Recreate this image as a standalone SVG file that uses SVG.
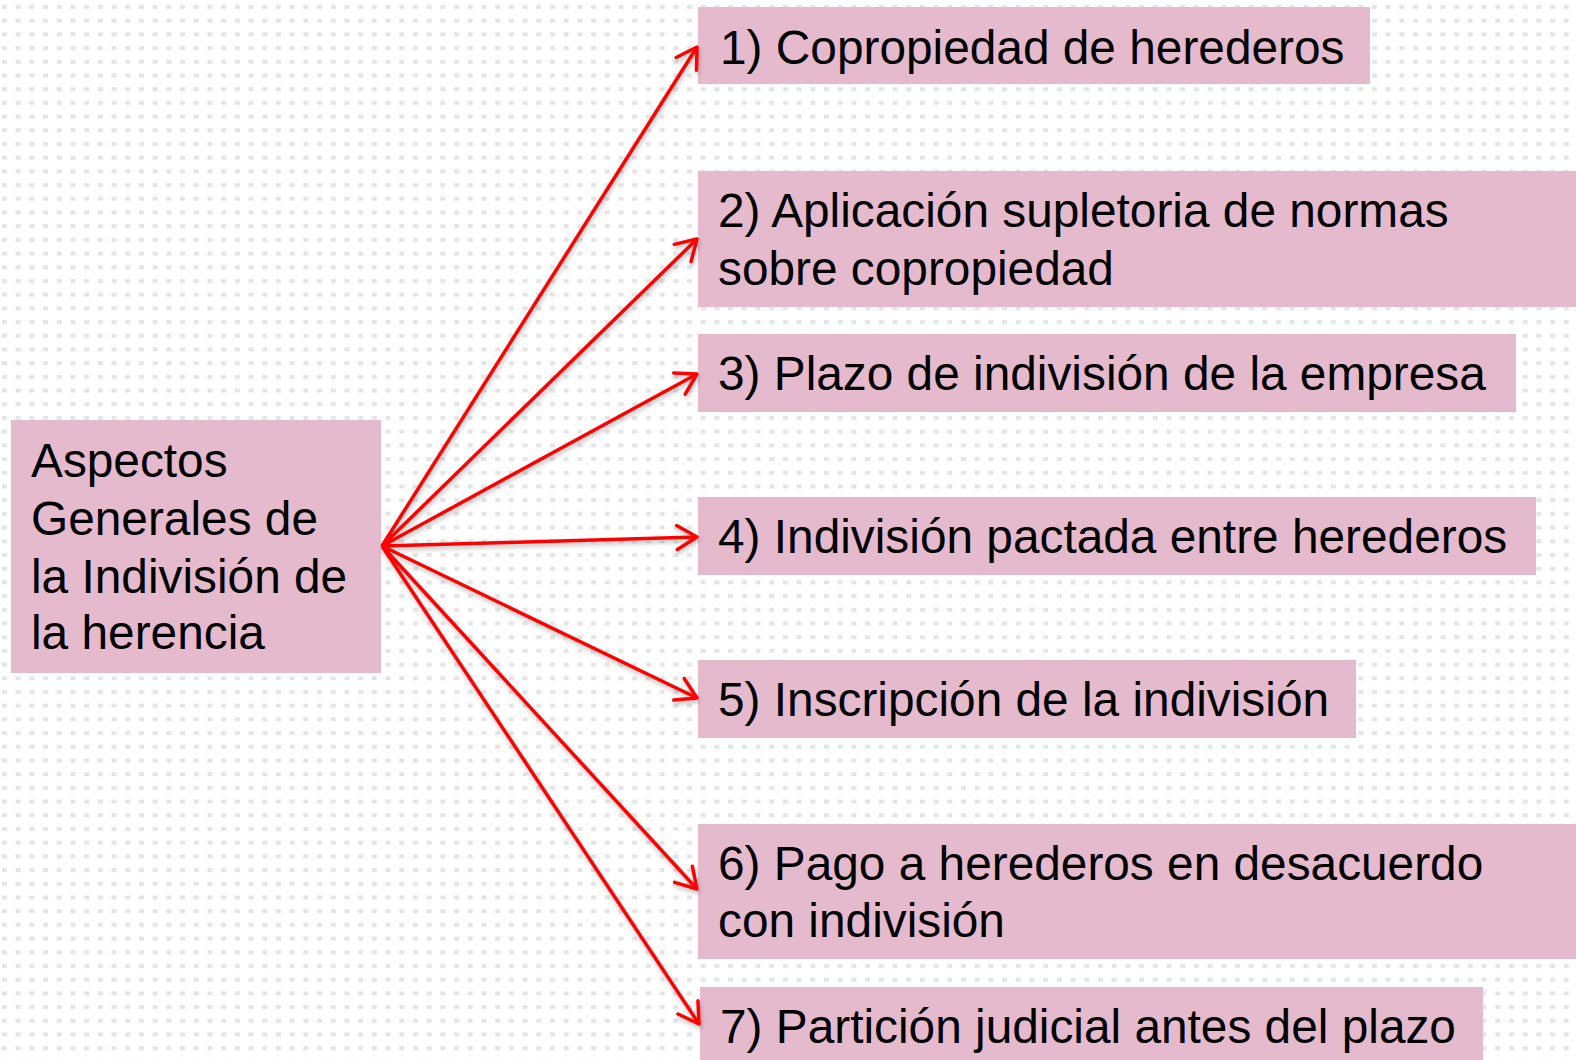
<svg xmlns="http://www.w3.org/2000/svg" width="1576" height="1060" viewBox="0 0 1576 1060">
<defs>
<pattern id="dots" x="0" y="0" width="13.7" height="13.7" patternUnits="userSpaceOnUse">
<rect x="2" y="5" width="5" height="4" fill="#e4e4e4"/>
</pattern>
<marker id="arr" viewBox="0 0 24 28" refX="22" refY="14" markerWidth="24" markerHeight="28" markerUnits="userSpaceOnUse" orient="auto">
<path d="M2,2 L22,14 L2,26" fill="none" stroke="#ff0000" stroke-width="3.5" stroke-linecap="round" stroke-linejoin="round"/>
</marker>
<filter id="sh" x="-10%" y="-10%" width="120%" height="120%">
<feDropShadow dx="1" dy="3" stdDeviation="2" flood-color="#000" flood-opacity="0.25"/>
</filter>
</defs>
<style>
.box{fill:#e5bacd}
.t{font-family:"Liberation Sans",Arial,sans-serif;font-size:47.8px;fill:#000}
.c{stroke:#ff0000;stroke-width:3.5;fill:none;marker-end:url(#arr)}
</style>
<rect width="1576" height="1060" fill="#ffffff"/>
<rect width="1576" height="1060" fill="url(#dots)"/>
<g id="n0"><rect class="box" x="11" y="420" width="370" height="253"/>
<text class="t" x="31" y="477">Aspectos</text>
<text class="t" x="31" y="535">Generales de</text>
<text class="t" x="31" y="593">la Indivisión de</text>
<text class="t" x="31" y="649">la herencia</text></g>
<g id="n1"><rect class="box" x="698" y="7" width="672" height="77"/><text class="t" x="720" y="64">1) Copropiedad de herederos</text></g>
<g id="n2"><rect class="box" x="698" y="171" width="878" height="136"/><text class="t" x="718" y="227">2) Aplicación supletoria de normas</text><text class="t" x="718" y="285">sobre copropiedad</text></g>
<g id="n3"><rect class="box" x="698" y="334" width="818" height="78"/><text class="t" x="718" y="390">3) Plazo de indivisión de la empresa</text></g>
<g id="n4"><rect class="box" x="698" y="497" width="838" height="78"/><text class="t" x="718" y="553">4) Indivisión pactada entre herederos</text></g>
<g id="n5"><rect class="box" x="698" y="660" width="658" height="78"/><text class="t" x="718" y="716">5) Inscripción de la indivisión</text></g>
<g id="n6"><rect class="box" x="698" y="824" width="878" height="135"/><text class="t" x="718" y="880">6) Pago a herederos en desacuerdo</text><text class="t" x="718" y="937">con indivisión</text></g>
<g id="n7"><rect class="box" x="700" y="987" width="783" height="73"/><text class="t" x="720" y="1043">7) Partición judicial antes del plazo</text></g>
<g id="connectors" filter="url(#sh)">
<path class="c" d="M382,546 L697,47"/>
<path class="c" d="M382,546 L697,239"/>
<path class="c" d="M382,546 L697,374"/>
<path class="c" d="M382,546 L697,537"/>
<path class="c" d="M382,546 L697,698"/>
<path class="c" d="M382,546 L697,889"/>
<path class="c" d="M382,546 L699,1024"/>
</g>
</svg>
